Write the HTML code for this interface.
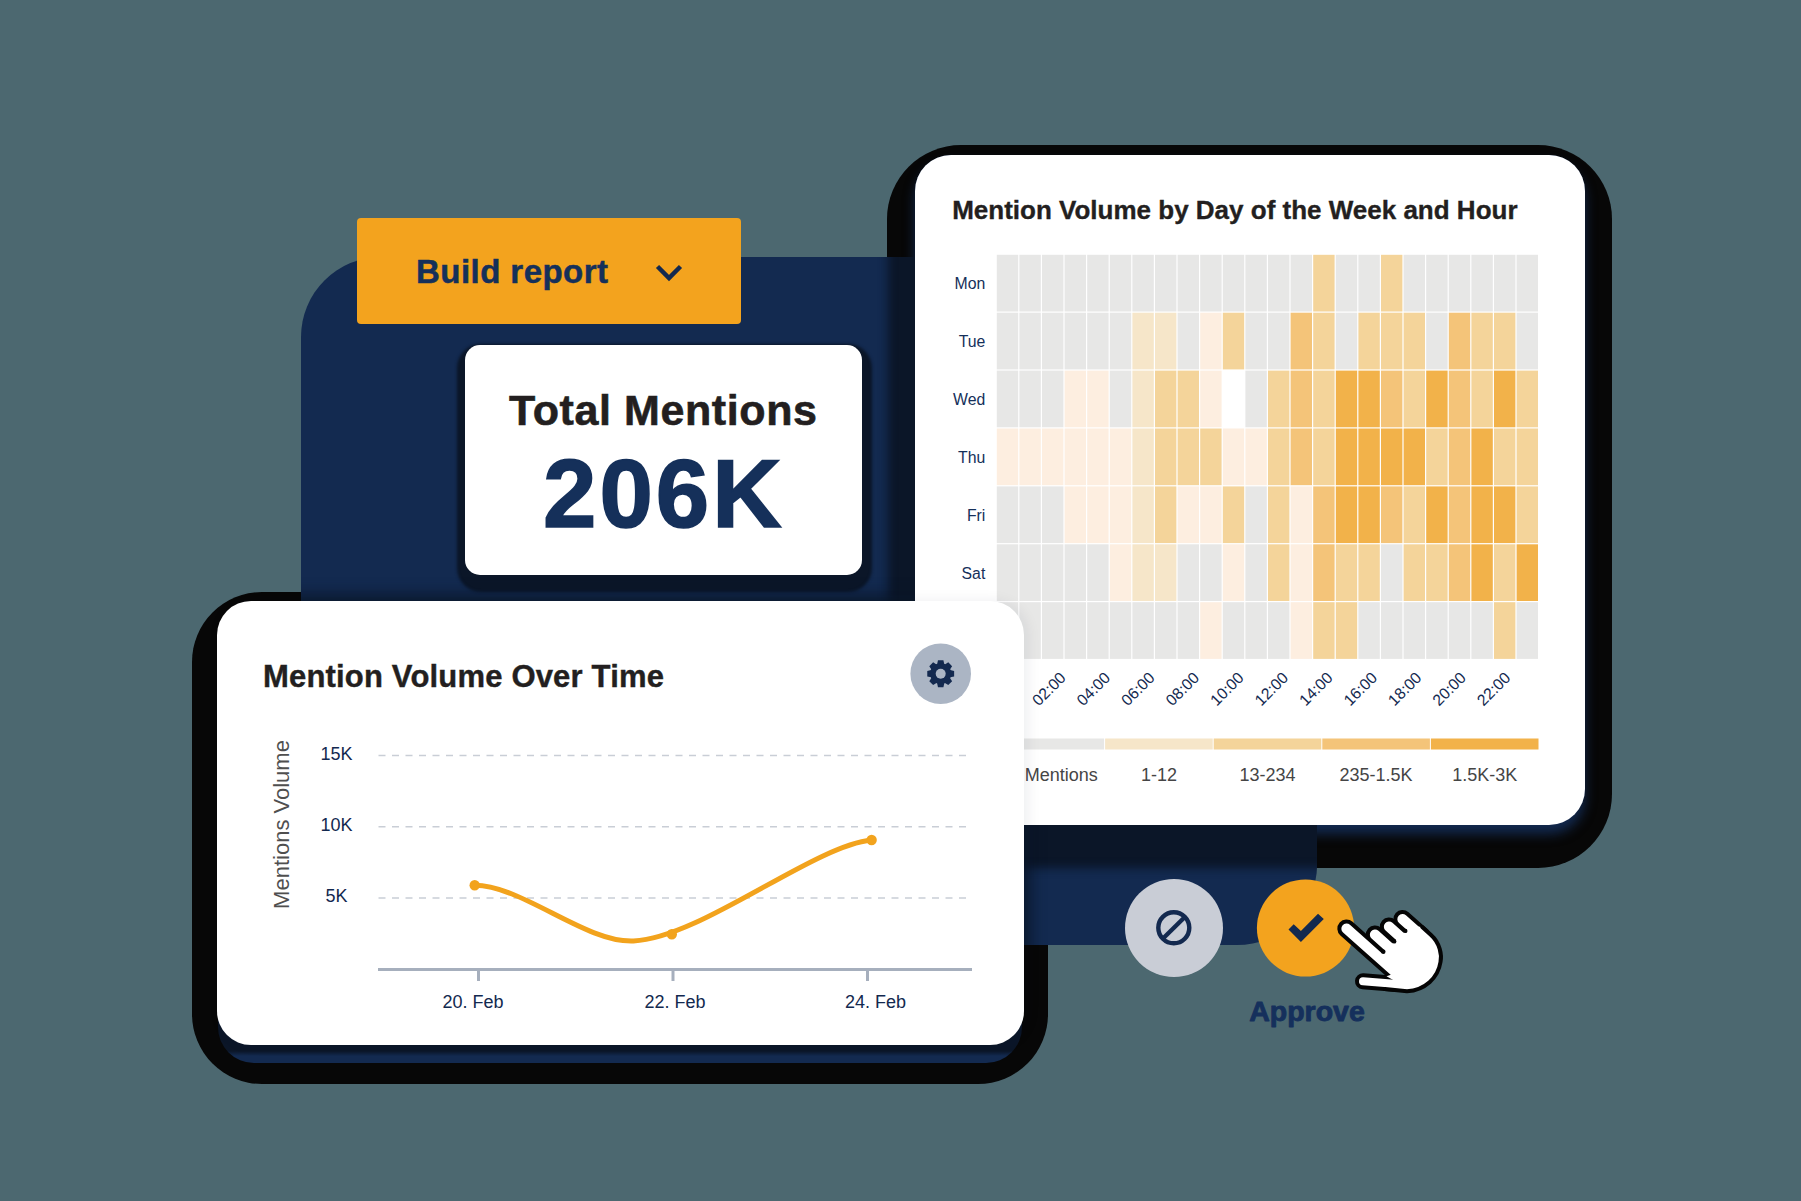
<!DOCTYPE html>
<html>
<head>
<meta charset="utf-8">
<style>
html,body{margin:0;padding:0;}
body{width:1801px;height:1201px;overflow:hidden;position:relative;background:#4c6870;font-family:"Liberation Sans",sans-serif;}
.abs{position:absolute;}
.backing{position:absolute;background:#070707;}
#navy{left:301px;top:257px;width:1016px;height:688px;background:#132a50;border-radius:80px;overflow:hidden;}
.card{position:absolute;background:#fff;}
.t{position:absolute;white-space:nowrap;line-height:1;}
</style>
</head>
<body>
<!-- black backings -->
<div class="backing" style="left:887px;top:145px;width:725px;height:723px;border-radius:74px;"></div>
<div class="backing" style="left:192px;top:592px;width:856px;height:492px;border-radius:70px;"></div>

<div class="abs" style="left:915px;top:155px;width:670px;height:670px;border-radius:36px;background:#132a50;box-shadow:0 9px 12px 0 #132a50;"></div>
<!-- navy panel with clipped soft shadows -->
<div id="navy" class="abs">
  <!-- heatmap soft shadow -->
  <div class="abs" style="left:614px;top:-102px;width:670px;height:670px;border-radius:36px;box-shadow:0 16px 10px 27px #0b1628;background:#0b1628;"></div>
  <!-- total mentions soft shadow -->
  <div class="abs" style="left:164px;top:87.5px;width:396.5px;height:230.5px;border-radius:15px;box-shadow:1px 8px 3px 9px #0b1628;background:#0b1628;"></div>
  <!-- line chart soft shadow -->
  <div class="abs" style="left:-84.5px;top:344px;width:807px;height:444px;border-radius:34px;box-shadow:0 0 16px 5px rgba(11,22,40,0.95);background:#0b1628;"></div>
</div>

<!-- Build report button -->
<div class="abs" style="left:357px;top:218px;width:384px;height:106px;background:#f3a31e;border-radius:4px;">
  <div class="t" style="left:59px;top:37px;font-size:33px;font-weight:bold;color:#15305a;letter-spacing:0.45px;-webkit-text-stroke:0.5px #15305a;">Build report</div>
  <svg class="abs" style="left:0;top:0" width="384" height="106"><polyline points="300.5,48.5 312,60 323.5,48.5" fill="none" stroke="#13294f" stroke-width="4.5"/></svg>
</div>

<!-- Total mentions card -->
<div class="card" style="left:465px;top:344.5px;width:396.5px;height:230.5px;border-radius:15px;">
  <div class="t" style="left:0;width:396.5px;text-align:center;top:44px;font-size:43px;font-weight:bold;color:#231f20;letter-spacing:0.6px;-webkit-text-stroke:0.6px #231f20;">Total Mentions</div>
  <div class="t" style="left:0;width:396.5px;text-align:center;top:101px;font-size:96px;font-weight:bold;color:#15305a;letter-spacing:3px;text-indent:1px;-webkit-text-stroke:1.6px #15305a;">206K</div>
</div>

<!-- Heatmap card -->
<div class="card" style="left:915px;top:155px;width:670px;height:670px;border-radius:36px;">
  <div class="t" style="left:37.2px;top:42px;font-size:26px;font-weight:bold;color:#231f20;-webkit-text-stroke:0.35px #231f20;">Mention Volume by Day of the Week and Hour</div>
  <svg class="abs" style="left:0;top:0" width="670" height="670" font-family="Liberation Sans"><rect x="81.2" y="99.2" width="542.4000000000001" height="405.3" fill="#ffffff"/>
<rect x="81.80" y="99.80" width="21.40" height="56.70" fill="#e7e7e6"/>
<rect x="104.40" y="99.80" width="21.40" height="56.70" fill="#e7e7e6"/>
<rect x="127.00" y="99.80" width="21.40" height="56.70" fill="#e7e7e6"/>
<rect x="149.60" y="99.80" width="21.40" height="56.70" fill="#e7e7e6"/>
<rect x="172.20" y="99.80" width="21.40" height="56.70" fill="#e7e7e6"/>
<rect x="194.80" y="99.80" width="21.40" height="56.70" fill="#e7e7e6"/>
<rect x="217.40" y="99.80" width="21.40" height="56.70" fill="#e7e7e6"/>
<rect x="240.00" y="99.80" width="21.40" height="56.70" fill="#e7e7e6"/>
<rect x="262.60" y="99.80" width="21.40" height="56.70" fill="#e7e7e6"/>
<rect x="285.20" y="99.80" width="21.40" height="56.70" fill="#e7e7e6"/>
<rect x="307.80" y="99.80" width="21.40" height="56.70" fill="#e7e7e6"/>
<rect x="330.40" y="99.80" width="21.40" height="56.70" fill="#e7e7e6"/>
<rect x="353.00" y="99.80" width="21.40" height="56.70" fill="#e7e7e6"/>
<rect x="375.60" y="99.80" width="21.40" height="56.70" fill="#e7e7e6"/>
<rect x="398.20" y="99.80" width="21.40" height="56.70" fill="#f4d49a"/>
<rect x="420.80" y="99.80" width="21.40" height="56.70" fill="#e7e7e6"/>
<rect x="443.40" y="99.80" width="21.40" height="56.70" fill="#e7e7e6"/>
<rect x="466.00" y="99.80" width="21.40" height="56.70" fill="#f4d49a"/>
<rect x="488.60" y="99.80" width="21.40" height="56.70" fill="#e7e7e6"/>
<rect x="511.20" y="99.80" width="21.40" height="56.70" fill="#e7e7e6"/>
<rect x="533.80" y="99.80" width="21.40" height="56.70" fill="#e7e7e6"/>
<rect x="556.40" y="99.80" width="21.40" height="56.70" fill="#e7e7e6"/>
<rect x="579.00" y="99.80" width="21.40" height="56.70" fill="#e7e7e6"/>
<rect x="601.60" y="99.80" width="21.40" height="56.70" fill="#e7e7e6"/>
<rect x="81.80" y="157.70" width="21.40" height="56.70" fill="#e7e7e6"/>
<rect x="104.40" y="157.70" width="21.40" height="56.70" fill="#e7e7e6"/>
<rect x="127.00" y="157.70" width="21.40" height="56.70" fill="#e7e7e6"/>
<rect x="149.60" y="157.70" width="21.40" height="56.70" fill="#e7e7e6"/>
<rect x="172.20" y="157.70" width="21.40" height="56.70" fill="#e7e7e6"/>
<rect x="194.80" y="157.70" width="21.40" height="56.70" fill="#e7e7e6"/>
<rect x="217.40" y="157.70" width="21.40" height="56.70" fill="#f6e6c9"/>
<rect x="240.00" y="157.70" width="21.40" height="56.70" fill="#f6e6c9"/>
<rect x="262.60" y="157.70" width="21.40" height="56.70" fill="#e7e7e6"/>
<rect x="285.20" y="157.70" width="21.40" height="56.70" fill="#fdeee0"/>
<rect x="307.80" y="157.70" width="21.40" height="56.70" fill="#f4d49a"/>
<rect x="330.40" y="157.70" width="21.40" height="56.70" fill="#e7e7e6"/>
<rect x="353.00" y="157.70" width="21.40" height="56.70" fill="#e7e7e6"/>
<rect x="375.60" y="157.70" width="21.40" height="56.70" fill="#f4c479"/>
<rect x="398.20" y="157.70" width="21.40" height="56.70" fill="#f4d49a"/>
<rect x="420.80" y="157.70" width="21.40" height="56.70" fill="#e7e7e6"/>
<rect x="443.40" y="157.70" width="21.40" height="56.70" fill="#f4d49a"/>
<rect x="466.00" y="157.70" width="21.40" height="56.70" fill="#f4d49a"/>
<rect x="488.60" y="157.70" width="21.40" height="56.70" fill="#f4d49a"/>
<rect x="511.20" y="157.70" width="21.40" height="56.70" fill="#e7e7e6"/>
<rect x="533.80" y="157.70" width="21.40" height="56.70" fill="#f4c479"/>
<rect x="556.40" y="157.70" width="21.40" height="56.70" fill="#f4d49a"/>
<rect x="579.00" y="157.70" width="21.40" height="56.70" fill="#f4d49a"/>
<rect x="601.60" y="157.70" width="21.40" height="56.70" fill="#e7e7e6"/>
<rect x="81.80" y="215.60" width="21.40" height="56.70" fill="#e7e7e6"/>
<rect x="104.40" y="215.60" width="21.40" height="56.70" fill="#e7e7e6"/>
<rect x="127.00" y="215.60" width="21.40" height="56.70" fill="#e7e7e6"/>
<rect x="149.60" y="215.60" width="21.40" height="56.70" fill="#fdeee0"/>
<rect x="172.20" y="215.60" width="21.40" height="56.70" fill="#fdeee0"/>
<rect x="194.80" y="215.60" width="21.40" height="56.70" fill="#e7e7e6"/>
<rect x="217.40" y="215.60" width="21.40" height="56.70" fill="#f6e6c9"/>
<rect x="240.00" y="215.60" width="21.40" height="56.70" fill="#f4d49a"/>
<rect x="262.60" y="215.60" width="21.40" height="56.70" fill="#f4d49a"/>
<rect x="285.20" y="215.60" width="21.40" height="56.70" fill="#fdeee0"/>
<rect x="307.80" y="215.60" width="21.40" height="56.70" fill="#ffffff"/>
<rect x="330.40" y="215.60" width="21.40" height="56.70" fill="#e7e7e6"/>
<rect x="353.00" y="215.60" width="21.40" height="56.70" fill="#f4d49a"/>
<rect x="375.60" y="215.60" width="21.40" height="56.70" fill="#f4c479"/>
<rect x="398.20" y="215.60" width="21.40" height="56.70" fill="#f4d49a"/>
<rect x="420.80" y="215.60" width="21.40" height="56.70" fill="#f2b24a"/>
<rect x="443.40" y="215.60" width="21.40" height="56.70" fill="#f2b24a"/>
<rect x="466.00" y="215.60" width="21.40" height="56.70" fill="#f4c479"/>
<rect x="488.60" y="215.60" width="21.40" height="56.70" fill="#f4d49a"/>
<rect x="511.20" y="215.60" width="21.40" height="56.70" fill="#f2b24a"/>
<rect x="533.80" y="215.60" width="21.40" height="56.70" fill="#f4c479"/>
<rect x="556.40" y="215.60" width="21.40" height="56.70" fill="#f4d49a"/>
<rect x="579.00" y="215.60" width="21.40" height="56.70" fill="#f2b24a"/>
<rect x="601.60" y="215.60" width="21.40" height="56.70" fill="#f4d49a"/>
<rect x="81.80" y="273.50" width="21.40" height="56.70" fill="#fdeee0"/>
<rect x="104.40" y="273.50" width="21.40" height="56.70" fill="#fdeee0"/>
<rect x="127.00" y="273.50" width="21.40" height="56.70" fill="#fdeee0"/>
<rect x="149.60" y="273.50" width="21.40" height="56.70" fill="#fdeee0"/>
<rect x="172.20" y="273.50" width="21.40" height="56.70" fill="#fdeee0"/>
<rect x="194.80" y="273.50" width="21.40" height="56.70" fill="#fdeee0"/>
<rect x="217.40" y="273.50" width="21.40" height="56.70" fill="#f6e6c9"/>
<rect x="240.00" y="273.50" width="21.40" height="56.70" fill="#f4d49a"/>
<rect x="262.60" y="273.50" width="21.40" height="56.70" fill="#f4d49a"/>
<rect x="285.20" y="273.50" width="21.40" height="56.70" fill="#f4d49a"/>
<rect x="307.80" y="273.50" width="21.40" height="56.70" fill="#fdeee0"/>
<rect x="330.40" y="273.50" width="21.40" height="56.70" fill="#fdeee0"/>
<rect x="353.00" y="273.50" width="21.40" height="56.70" fill="#f4d49a"/>
<rect x="375.60" y="273.50" width="21.40" height="56.70" fill="#f4c479"/>
<rect x="398.20" y="273.50" width="21.40" height="56.70" fill="#f4d49a"/>
<rect x="420.80" y="273.50" width="21.40" height="56.70" fill="#f2b24a"/>
<rect x="443.40" y="273.50" width="21.40" height="56.70" fill="#f2b24a"/>
<rect x="466.00" y="273.50" width="21.40" height="56.70" fill="#f2b24a"/>
<rect x="488.60" y="273.50" width="21.40" height="56.70" fill="#f2b24a"/>
<rect x="511.20" y="273.50" width="21.40" height="56.70" fill="#f4d49a"/>
<rect x="533.80" y="273.50" width="21.40" height="56.70" fill="#f4c479"/>
<rect x="556.40" y="273.50" width="21.40" height="56.70" fill="#f2b24a"/>
<rect x="579.00" y="273.50" width="21.40" height="56.70" fill="#f4d49a"/>
<rect x="601.60" y="273.50" width="21.40" height="56.70" fill="#f4d49a"/>
<rect x="81.80" y="331.40" width="21.40" height="56.70" fill="#e7e7e6"/>
<rect x="104.40" y="331.40" width="21.40" height="56.70" fill="#e7e7e6"/>
<rect x="127.00" y="331.40" width="21.40" height="56.70" fill="#e7e7e6"/>
<rect x="149.60" y="331.40" width="21.40" height="56.70" fill="#fdeee0"/>
<rect x="172.20" y="331.40" width="21.40" height="56.70" fill="#fdeee0"/>
<rect x="194.80" y="331.40" width="21.40" height="56.70" fill="#fdeee0"/>
<rect x="217.40" y="331.40" width="21.40" height="56.70" fill="#f6e6c9"/>
<rect x="240.00" y="331.40" width="21.40" height="56.70" fill="#f4d49a"/>
<rect x="262.60" y="331.40" width="21.40" height="56.70" fill="#fdeee0"/>
<rect x="285.20" y="331.40" width="21.40" height="56.70" fill="#fdeee0"/>
<rect x="307.80" y="331.40" width="21.40" height="56.70" fill="#f4d49a"/>
<rect x="330.40" y="331.40" width="21.40" height="56.70" fill="#e7e7e6"/>
<rect x="353.00" y="331.40" width="21.40" height="56.70" fill="#f4d49a"/>
<rect x="375.60" y="331.40" width="21.40" height="56.70" fill="#fdeee0"/>
<rect x="398.20" y="331.40" width="21.40" height="56.70" fill="#f4c479"/>
<rect x="420.80" y="331.40" width="21.40" height="56.70" fill="#f2b24a"/>
<rect x="443.40" y="331.40" width="21.40" height="56.70" fill="#f2b24a"/>
<rect x="466.00" y="331.40" width="21.40" height="56.70" fill="#f4c479"/>
<rect x="488.60" y="331.40" width="21.40" height="56.70" fill="#f4d49a"/>
<rect x="511.20" y="331.40" width="21.40" height="56.70" fill="#f2b24a"/>
<rect x="533.80" y="331.40" width="21.40" height="56.70" fill="#f4c479"/>
<rect x="556.40" y="331.40" width="21.40" height="56.70" fill="#f2b24a"/>
<rect x="579.00" y="331.40" width="21.40" height="56.70" fill="#f2b24a"/>
<rect x="601.60" y="331.40" width="21.40" height="56.70" fill="#f4d49a"/>
<rect x="81.80" y="389.30" width="21.40" height="56.70" fill="#e7e7e6"/>
<rect x="104.40" y="389.30" width="21.40" height="56.70" fill="#e7e7e6"/>
<rect x="127.00" y="389.30" width="21.40" height="56.70" fill="#e7e7e6"/>
<rect x="149.60" y="389.30" width="21.40" height="56.70" fill="#e7e7e6"/>
<rect x="172.20" y="389.30" width="21.40" height="56.70" fill="#e7e7e6"/>
<rect x="194.80" y="389.30" width="21.40" height="56.70" fill="#fdeee0"/>
<rect x="217.40" y="389.30" width="21.40" height="56.70" fill="#f6e6c9"/>
<rect x="240.00" y="389.30" width="21.40" height="56.70" fill="#f6e6c9"/>
<rect x="262.60" y="389.30" width="21.40" height="56.70" fill="#e7e7e6"/>
<rect x="285.20" y="389.30" width="21.40" height="56.70" fill="#e7e7e6"/>
<rect x="307.80" y="389.30" width="21.40" height="56.70" fill="#fdeee0"/>
<rect x="330.40" y="389.30" width="21.40" height="56.70" fill="#e7e7e6"/>
<rect x="353.00" y="389.30" width="21.40" height="56.70" fill="#f4d49a"/>
<rect x="375.60" y="389.30" width="21.40" height="56.70" fill="#fdeee0"/>
<rect x="398.20" y="389.30" width="21.40" height="56.70" fill="#f4c479"/>
<rect x="420.80" y="389.30" width="21.40" height="56.70" fill="#f4d49a"/>
<rect x="443.40" y="389.30" width="21.40" height="56.70" fill="#f4d49a"/>
<rect x="466.00" y="389.30" width="21.40" height="56.70" fill="#e7e7e6"/>
<rect x="488.60" y="389.30" width="21.40" height="56.70" fill="#f4d49a"/>
<rect x="511.20" y="389.30" width="21.40" height="56.70" fill="#f4d49a"/>
<rect x="533.80" y="389.30" width="21.40" height="56.70" fill="#f4c479"/>
<rect x="556.40" y="389.30" width="21.40" height="56.70" fill="#f2b24a"/>
<rect x="579.00" y="389.30" width="21.40" height="56.70" fill="#f4d49a"/>
<rect x="601.60" y="389.30" width="21.40" height="56.70" fill="#f2b24a"/>
<rect x="81.80" y="447.20" width="21.40" height="56.70" fill="#e7e7e6"/>
<rect x="104.40" y="447.20" width="21.40" height="56.70" fill="#e7e7e6"/>
<rect x="127.00" y="447.20" width="21.40" height="56.70" fill="#e7e7e6"/>
<rect x="149.60" y="447.20" width="21.40" height="56.70" fill="#e7e7e6"/>
<rect x="172.20" y="447.20" width="21.40" height="56.70" fill="#e7e7e6"/>
<rect x="194.80" y="447.20" width="21.40" height="56.70" fill="#e7e7e6"/>
<rect x="217.40" y="447.20" width="21.40" height="56.70" fill="#e7e7e6"/>
<rect x="240.00" y="447.20" width="21.40" height="56.70" fill="#e7e7e6"/>
<rect x="262.60" y="447.20" width="21.40" height="56.70" fill="#e7e7e6"/>
<rect x="285.20" y="447.20" width="21.40" height="56.70" fill="#fdeee0"/>
<rect x="307.80" y="447.20" width="21.40" height="56.70" fill="#e7e7e6"/>
<rect x="330.40" y="447.20" width="21.40" height="56.70" fill="#e7e7e6"/>
<rect x="353.00" y="447.20" width="21.40" height="56.70" fill="#e7e7e6"/>
<rect x="375.60" y="447.20" width="21.40" height="56.70" fill="#fdeee0"/>
<rect x="398.20" y="447.20" width="21.40" height="56.70" fill="#f4d49a"/>
<rect x="420.80" y="447.20" width="21.40" height="56.70" fill="#f4d49a"/>
<rect x="443.40" y="447.20" width="21.40" height="56.70" fill="#e7e7e6"/>
<rect x="466.00" y="447.20" width="21.40" height="56.70" fill="#e7e7e6"/>
<rect x="488.60" y="447.20" width="21.40" height="56.70" fill="#e7e7e6"/>
<rect x="511.20" y="447.20" width="21.40" height="56.70" fill="#e7e7e6"/>
<rect x="533.80" y="447.20" width="21.40" height="56.70" fill="#e7e7e6"/>
<rect x="556.40" y="447.20" width="21.40" height="56.70" fill="#e7e7e6"/>
<rect x="579.00" y="447.20" width="21.40" height="56.70" fill="#f4d49a"/>
<rect x="601.60" y="447.20" width="21.40" height="56.70" fill="#e7e7e6"/>
<text x="70.3" y="134.00" text-anchor="end" font-size="15.8" fill="#15305a">Mon</text>
<text x="70.3" y="191.90" text-anchor="end" font-size="15.8" fill="#15305a">Tue</text>
<text x="70.3" y="249.80" text-anchor="end" font-size="15.8" fill="#15305a">Wed</text>
<text x="70.3" y="307.70" text-anchor="end" font-size="15.8" fill="#15305a">Thu</text>
<text x="70.3" y="365.60" text-anchor="end" font-size="15.8" fill="#15305a">Fri</text>
<text x="70.3" y="423.50" text-anchor="end" font-size="15.8" fill="#15305a">Sat</text>
<text x="70.3" y="481.40" text-anchor="end" font-size="15.8" fill="#15305a">Sun</text>
<text transform="translate(151.80,523.80) rotate(-45)" text-anchor="end" font-size="15.8" fill="#13294f">02:00</text>
<text transform="translate(196.27,523.80) rotate(-45)" text-anchor="end" font-size="15.8" fill="#13294f">04:00</text>
<text transform="translate(240.74,523.80) rotate(-45)" text-anchor="end" font-size="15.8" fill="#13294f">06:00</text>
<text transform="translate(285.21,523.80) rotate(-45)" text-anchor="end" font-size="15.8" fill="#13294f">08:00</text>
<text transform="translate(329.68,523.80) rotate(-45)" text-anchor="end" font-size="15.8" fill="#13294f">10:00</text>
<text transform="translate(374.15,523.80) rotate(-45)" text-anchor="end" font-size="15.8" fill="#13294f">12:00</text>
<text transform="translate(418.62,523.80) rotate(-45)" text-anchor="end" font-size="15.8" fill="#13294f">14:00</text>
<text transform="translate(463.09,523.80) rotate(-45)" text-anchor="end" font-size="15.8" fill="#13294f">16:00</text>
<text transform="translate(507.56,523.80) rotate(-45)" text-anchor="end" font-size="15.8" fill="#13294f">18:00</text>
<text transform="translate(552.03,523.80) rotate(-45)" text-anchor="end" font-size="15.8" fill="#13294f">20:00</text>
<text transform="translate(596.50,523.80) rotate(-45)" text-anchor="end" font-size="15.8" fill="#13294f">22:00</text>
<rect x="81.50" y="583.5" width="107.60" height="11" fill="#e7e7e6"/>
<rect x="190.10" y="583.5" width="107.60" height="11" fill="#f6e6c9"/>
<rect x="298.70" y="583.5" width="107.60" height="11" fill="#f4d49a"/>
<rect x="407.30" y="583.5" width="107.60" height="11" fill="#f4c479"/>
<rect x="515.90" y="583.5" width="107.60" height="11" fill="#f2b24a"/>
<text x="132.30" y="625.5" text-anchor="middle" font-size="18" fill="#454545">No Mentions</text>
<text x="243.90" y="625.5" text-anchor="middle" font-size="18" fill="#454545">1-12</text>
<text x="352.50" y="625.5" text-anchor="middle" font-size="18" fill="#454545">13-234</text>
<text x="461.10" y="625.5" text-anchor="middle" font-size="18" fill="#454545">235-1.5K</text>
<text x="569.70" y="625.5" text-anchor="middle" font-size="18" fill="#454545">1.5K-3K</text></svg>
</div>

<!-- line chart bottom band -->
<div class="abs" style="left:218px;top:1000px;width:804px;height:63px;border-radius:0 0 36px 36px;background:linear-gradient(to bottom,#0b1628 0px,#0b1628 51px,#132a50 56px,#132a50 100%);"></div>

<!-- Line chart card -->
<div class="card" style="left:216.5px;top:601px;width:807px;height:444px;border-radius:34px;box-shadow:4px 0 14px rgba(20,35,60,0.07);">
  <div class="t" style="left:46.5px;top:60px;font-size:31px;font-weight:bold;color:#231f20;letter-spacing:0.18px;-webkit-text-stroke:0.4px #231f20;">Mention Volume Over Time</div>
  <svg class="abs" style="left:0;top:0" width="807" height="444" font-family="Liberation Sans"><text transform="translate(71.50,223.50) rotate(-90)" text-anchor="middle" font-size="22" fill="#4f4f4f">Mentions Volume</text>
<text x="119.40" y="159.00" text-anchor="middle" font-size="18" fill="#13294f">15K</text>
<line x1="161.50" y1="154.50" x2="750.50" y2="154.50" stroke="#c9ced6" stroke-width="1.6" stroke-dasharray="7 6.5"/>
<text x="119.40" y="229.75" text-anchor="middle" font-size="18" fill="#13294f">10K</text>
<line x1="161.50" y1="225.75" x2="750.50" y2="225.75" stroke="#c9ced6" stroke-width="1.6" stroke-dasharray="7 6.5"/>
<text x="119.40" y="300.50" text-anchor="middle" font-size="18" fill="#13294f">5K</text>
<line x1="161.50" y1="297.00" x2="750.50" y2="297.00" stroke="#c9ced6" stroke-width="1.6" stroke-dasharray="7 6.5"/>
<line x1="161.0" y1="368.5" x2="755.0" y2="368.5" stroke="#a6afbd" stroke-width="3"/>
<line x1="261.5" y1="368.5" x2="261.5" y2="380" stroke="#a6afbd" stroke-width="3"/>
<line x1="456.0" y1="368.5" x2="456.0" y2="380" stroke="#a6afbd" stroke-width="3"/>
<line x1="650.5" y1="368.5" x2="650.5" y2="380" stroke="#a6afbd" stroke-width="3"/>
<text x="256.10" y="406.50" text-anchor="middle" font-size="18" fill="#13294f">20. Feb</text>
<text x="458.00" y="406.50" text-anchor="middle" font-size="18" fill="#13294f">22. Feb</text>
<text x="658.50" y="406.50" text-anchor="middle" font-size="18" fill="#13294f">24. Feb</text>
<path d="M257.70,284.30 C305.50,284.50 368.50,342.00 416.50,340.00 C483.50,337.00 595.50,245.00 654.50,239.00" fill="none" stroke="#f2a31d" stroke-width="5" stroke-linecap="round"/>
<circle cx="257.70" cy="284.30" r="5.2" fill="#f2a31d"/>
<circle cx="454.80" cy="333.20" r="5.2" fill="#f2a31d"/>
<circle cx="654.60" cy="239.00" r="5.2" fill="#f2a31d"/>
<circle cx="723.70" cy="72.70" r="30.3" fill="#abb5c4"/>
<polygon points="720.11,63.15 720.98,59.27 726.42,59.27 727.29,63.15 727.91,63.41 731.27,61.28 735.12,65.13 732.99,68.49 733.25,69.11 737.13,69.98 737.13,75.42 733.25,76.29 732.99,76.91 735.12,80.27 731.27,84.12 727.91,81.99 727.29,82.25 726.42,86.13 720.98,86.13 720.11,82.25 719.49,81.99 716.13,84.12 712.28,80.27 714.41,76.91 714.15,76.29 710.27,75.42 710.27,69.98 714.15,69.11 714.41,68.49 712.28,65.13 716.13,61.28 719.49,63.41" fill="#13294f"/>
<circle cx="723.70" cy="72.70" r="10.4" fill="#13294f"/>
<circle cx="723.70" cy="72.70" r="5" fill="#abb5c4"/></svg>
</div>

<!-- action buttons -->
<svg class="abs" style="left:0;top:0" width="1801" height="1201" font-family="Liberation Sans"><circle cx="1174" cy="928" r="49" fill="#c9cdd6"/>
<circle cx="1173.8" cy="927.8" r="15.5" fill="none" stroke="#13294f" stroke-width="4.4"/>
<line x1="1184.6" y1="917.2" x2="1163" y2="938.5" stroke="#13294f" stroke-width="4.4"/>
<circle cx="1305.5" cy="928" r="48.6" fill="#f3a31e"/>
<polygon points="1293.7,924.3 1300.9,931.1 1318,913.7 1323.8,919 1300.9,942 1288.5,929.5" fill="#13294f"/>
<line x1="1346.50" y1="928.65" x2="1404.77" y2="980.52" stroke="#050505" stroke-width="18.3" stroke-linecap="round"/>
<line x1="1375.00" y1="934.65" x2="1391.43" y2="949.28" stroke="#050505" stroke-width="18.3" stroke-linecap="round"/>
<line x1="1389.00" y1="926.65" x2="1405.43" y2="941.28" stroke="#050505" stroke-width="18.3" stroke-linecap="round"/>
<line x1="1402.50" y1="919.15" x2="1421.92" y2="936.44" stroke="#050505" stroke-width="18.3" stroke-linecap="round"/>
<line x1="1363" y1="981.3" x2="1394" y2="983.7" stroke="#050505" stroke-width="16" stroke-linecap="round"/>
<line x1="1346.50" y1="928.65" x2="1404.77" y2="980.52" stroke="#fff" stroke-width="10.3" stroke-linecap="round"/>
<line x1="1375.00" y1="934.65" x2="1391.43" y2="949.28" stroke="#fff" stroke-width="10.3" stroke-linecap="round"/>
<line x1="1389.00" y1="926.65" x2="1405.43" y2="941.28" stroke="#fff" stroke-width="10.3" stroke-linecap="round"/>
<line x1="1402.50" y1="919.15" x2="1421.92" y2="936.44" stroke="#fff" stroke-width="10.3" stroke-linecap="round"/>
<line x1="1363" y1="981.3" x2="1394" y2="983.7" stroke="#fff" stroke-width="8" stroke-linecap="round"/>
<path d="M1378,956.7 L1382,953 L1393,942.5 L1404,932 L1410.4,926 L1422.2,927.1 L1431,935 C1440,943 1442,955 1440.5,962 C1438,978 1425,990 1407,991.3 L1385,989 L1385,983 L1405,980.7 Z" fill="#fff"/>
<polygon points="1386.5,976.2 1402,971 1402,985" fill="#fff"/>
<path d="M1422.2,927.1 L1431,935 C1440,943 1442,955 1440.5,962 C1438,978 1425,990 1407,991.3 L1385,989" fill="none" stroke="#050505" stroke-width="4" stroke-linejoin="round" stroke-linecap="round"/>
<circle cx="1383.35" cy="951.7" r="2.2" fill="#050505"/>
<circle cx="1394.2" cy="941.4" r="2.2" fill="#050505"/>
<circle cx="1405.3" cy="930.9" r="2.2" fill="#050505"/>
<text x="1307" y="1020.8" text-anchor="middle" font-size="28.5" font-weight="bold" fill="#15305c" stroke="#15305c" stroke-width="0.9" stroke-linejoin="round">Approve</text></svg>

</body>
</html>
